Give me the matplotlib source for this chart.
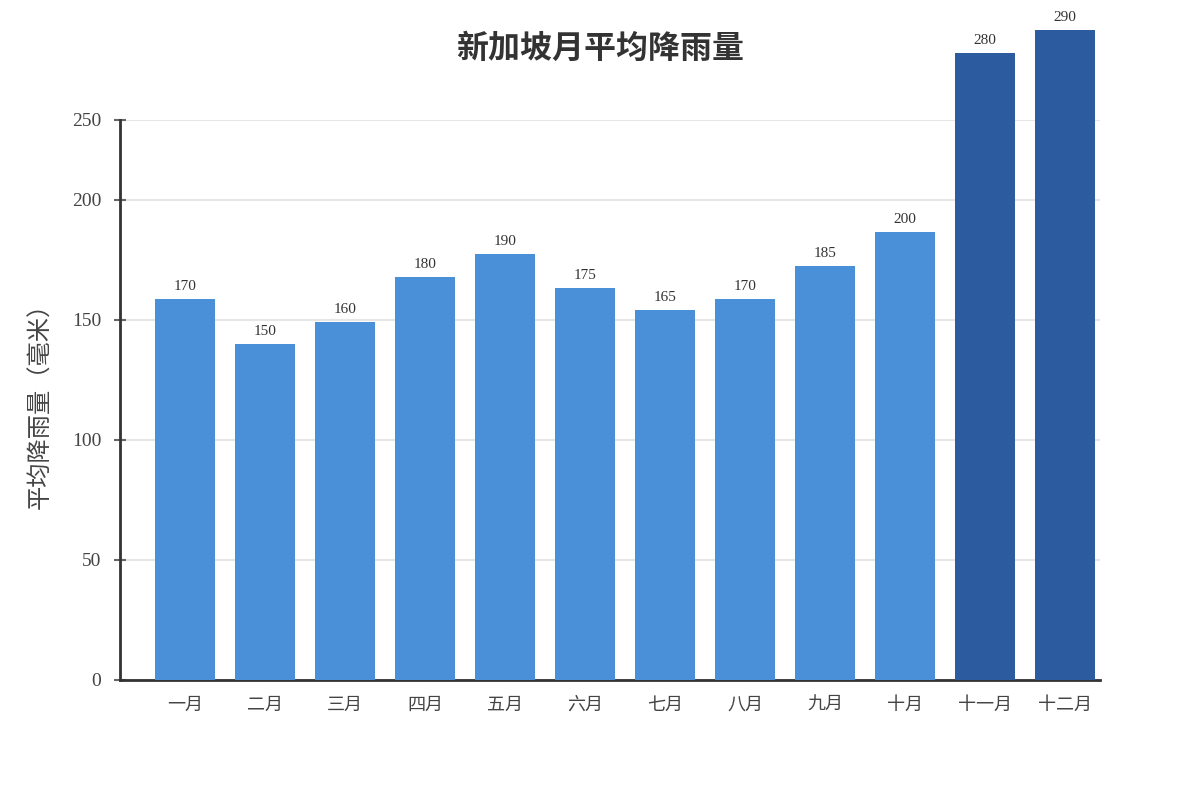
import matplotlib
matplotlib.use("Agg")
import matplotlib.pyplot as plt
import numpy as np

# monthly average rainfall, Singapore (mm)
months = ["一月", "二月", "三月", "四月", "五月", "六月",
          "七月", "八月", "九月", "十月", "十一月", "十二月"]
rainfall = [170, 150, 160, 180, 190, 175, 165, 170, 185, 200, 280, 290]
# the source chart draws bars at 14/15 of the labelled value
bar_scale = 14 / 15
y_ticks = [0, 50, 100, 150, 200, 250]
y_tick_pos = [0, 50, 100, 150, 200, 250 * bar_scale]

light_blue = "#4a90d9"
dark_blue = "#2c5ba0"
colors = [dark_blue if v >= 250 else light_blue for v in rainfall]

fonts = ["Liberation Serif", "Noto Sans CJK SC", "DejaVu Sans"]
plt.rcParams["font.family"] = fonts

fig = plt.figure(figsize=(12, 8), dpi=100)
ax = fig.add_axes([0.1, 0.15, 0.8167, 0.70])

x = np.arange(len(months))
heights = [v * bar_scale for v in rainfall]
bars = ax.bar(x, heights, width=0.75, color=colors, zorder=3, clip_on=False)

for xi, h, v in zip(x, heights, rainfall):
    ax.text(xi, h + 2.5, str(v), ha="center", va="bottom",
            fontsize=11, color="#333333", zorder=4)

ax.set_xlim(-0.8125, 11.4375)
ax.set_ylim(0, 250 * bar_scale)
ax.set_yticks(y_tick_pos)
ax.set_yticklabels([str(t) for t in y_ticks])
ax.set_xticks(x)
ax.set_xticklabels(months)

ax.tick_params(axis="y", direction="inout", length=9, width=1.5,
               color="#666666", labelsize=14, labelcolor="#444444", pad=9)
ax.tick_params(axis="x", length=0, labelsize=13, labelcolor="#444444", pad=12)

ax.grid(axis="y", color="#e6e6e6", linewidth=1.5, zorder=0)
for side in ["top", "right"]:
    ax.spines[side].set_visible(False)
for side in ["left", "bottom"]:
    ax.spines[side].set_color("#333333")
    ax.spines[side].set_linewidth(2)

ax.set_ylabel("平均降雨量（毫米）", fontsize=17.5, color="#444444", labelpad=14)

fig.text(0.5, 0.938, "新加坡月平均降雨量", ha="center", va="center",
         fontsize=23, fontweight="bold", color="#333333")

fig.savefig("out.png", dpi=100)
